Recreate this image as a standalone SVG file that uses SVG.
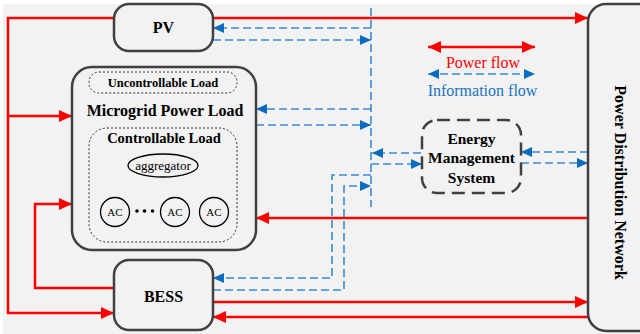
<svg xmlns="http://www.w3.org/2000/svg" width="640" height="334" viewBox="0 0 640 334" font-family="'Liberation Serif', 'Times New Roman', Times, serif">
<defs>
<style>
.bg{fill:#f2f2f2}
.box{fill:#f2f2f2;stroke:#404040;stroke-width:2.5}
.dotbox{fill:none;stroke:#333;stroke-width:1;stroke-dasharray:2,2}
.ems{fill:#f2f2f2;stroke:#404040;stroke-width:2.5;stroke-dasharray:13,7}
.red{fill:none;stroke:#ff0000;stroke-width:2.5}
.blue{fill:none;stroke:#3a8ad4;stroke-width:1.6;stroke-dasharray:8,4}
.blk{fill:none;stroke:#000;stroke-width:1.2;stroke-dasharray:2,2}
text{font-family:'Liberation Serif','Times New Roman',Times,serif}
.t{text-anchor:middle}
.b{font-weight:bold;fill:#000}
</style>
<marker id="ar" markerUnits="userSpaceOnUse" markerWidth="13" markerHeight="12" refX="13" refY="6" orient="auto-start-reverse"><path d="M0,0 L13,6 L0,12 z" fill="#ff0000"/></marker>
<marker id="ab" markerUnits="userSpaceOnUse" markerWidth="11" markerHeight="10" refX="11" refY="5" orient="auto-start-reverse"><path d="M0,0 L11,5 L0,10 z" fill="#0b6cbf"/></marker>
<marker id="ak" markerUnits="userSpaceOnUse" markerWidth="8" markerHeight="7" refX="8" refY="3.5" orient="auto-start-reverse"><path d="M0,0 L8,3.5 L0,7 z" fill="#000"/></marker>
</defs>
<rect class="bg" x="3" y="4" width="637" height="330"/>

<g id="connectors">
<path class="red" d="M213,18 H588" marker-end="url(#ar)"/>
<path class="red" d="M114,18 H8 V313 H114" marker-end="url(#ar)"/>
<path class="red" d="M8,116 H72" marker-end="url(#ar)"/>
<path class="red" d="M588,218 H256" marker-end="url(#ar)"/>
<path class="red" d="M114,288 H35 V204 H72" marker-end="url(#ar)"/>
<path class="red" d="M213,302 H588" marker-end="url(#ar)"/>
<path class="red" d="M588,317 H213" marker-end="url(#ar)"/>

<path class="blue" d="M371,8 V207"/>
<path class="blue" d="M371,28 H213" marker-end="url(#ab)"/>
<path class="blue" d="M213,40 H371" marker-end="url(#ab)"/>
<path class="blue" d="M371,109 H256" marker-end="url(#ab)"/>
<path class="blue" d="M256,125 H371" marker-end="url(#ab)"/>
<path class="blue" d="M421,153 H372" marker-end="url(#ab)"/>
<path class="blue" d="M371,164 H422" marker-end="url(#ab)"/>
<path class="blue" d="M371,175 H332 V278 H213" marker-end="url(#ab)"/>
<path class="blue" d="M213,290 H344 V186 H371" marker-end="url(#ab)"/>
<path class="blue" d="M588,152 H521" marker-end="url(#ab)"/>
<path class="blue" d="M521,163 H588" marker-end="url(#ab)"/>

<path class="blk" d="M160,179 L124,196" marker-start="url(#ak)" marker-end="url(#ak)"/>
<path class="blk" d="M165,179 L169,197" marker-start="url(#ak)" marker-end="url(#ak)"/>
<path class="blk" d="M168,179 L209,196" marker-start="url(#ak)" marker-end="url(#ak)"/>
</g>

<g id="pv">
<rect class="box" x="114" y="4" width="99" height="47" rx="15"/>
<text class="t b" x="163.5" y="33" font-size="16">PV</text>
</g>

<g id="microgrid-load">
<rect class="box" x="72" y="67" width="184" height="183" rx="20"/>
<text class="t b" x="165" y="116" font-size="16">Microgrid Power Load</text>
</g>

<g id="uncontrollable-load">
<rect class="dotbox" x="89" y="72" width="148" height="21" rx="10"/>
<text class="t b" x="163" y="87" font-size="12.5">Uncontrollable Load</text>
</g>

<g id="controllable-load">
<rect class="dotbox" x="89" y="128" width="148" height="114" rx="18"/>
<text class="t b" x="164" y="143" font-size="14.5">Controllable Load</text>
</g>

<g id="aggregator">
<ellipse cx="163" cy="165.5" rx="35" ry="11.5" fill="#f2f2f2" stroke="#000" stroke-width="1.3"/>
<text class="t" x="163" y="170" font-size="13">aggregator</text>
</g>

<g id="ac1">
<circle cx="115" cy="212" r="14.5" fill="#f2f2f2" stroke="#000" stroke-width="1.3"/>
<text class="t" x="115" y="216" font-size="11">AC</text>
</g>
<g id="dots">
<circle cx="137" cy="211" r="1.8" fill="#000"/>
<circle cx="144.5" cy="211" r="1.8" fill="#000"/>
<circle cx="152.5" cy="211" r="1.8" fill="#000"/>
</g>
<g id="ac2">
<circle cx="175" cy="212" r="14.5" fill="#f2f2f2" stroke="#000" stroke-width="1.3"/>
<text class="t" x="175" y="216" font-size="11">AC</text>
</g>
<g id="ac3">
<circle cx="214" cy="212" r="14.5" fill="#f2f2f2" stroke="#000" stroke-width="1.3"/>
<text class="t" x="214" y="216" font-size="11">AC</text>
</g>

<g id="bess">
<rect class="box" x="114" y="260" width="99" height="70" rx="15"/>
<text class="t b" x="163.5" y="302" font-size="16">BESS</text>
</g>

<g id="ems">
<rect class="ems" x="422" y="120" width="99" height="73" rx="15"/>
<text class="t b" x="471.5" y="144" font-size="15.5">Energy</text>
<text class="t b" x="471.5" y="163" font-size="15.5">Management</text>
<text class="t b" x="471.5" y="183" font-size="15.5">System</text>
</g>

<g id="pdn">
<rect class="box" x="588" y="4" width="70" height="327" rx="18"/>
<text class="t b" transform="translate(615,182.5) rotate(90)" font-size="16">Power Distribution Network</text>
</g>

<g id="legend">
<path class="red" d="M428,47 H535" marker-start="url(#ar)" marker-end="url(#ar)"/>
<text class="t" x="483" y="68" font-size="16" fill="#ff0000">Power flow</text>
<path class="blue" d="M428,74 H535" marker-start="url(#ab)" marker-end="url(#ab)"/>
<text class="t" x="482.5" y="96" font-size="16" fill="#1a72c0">Information flow</text>
</g>
</svg>
